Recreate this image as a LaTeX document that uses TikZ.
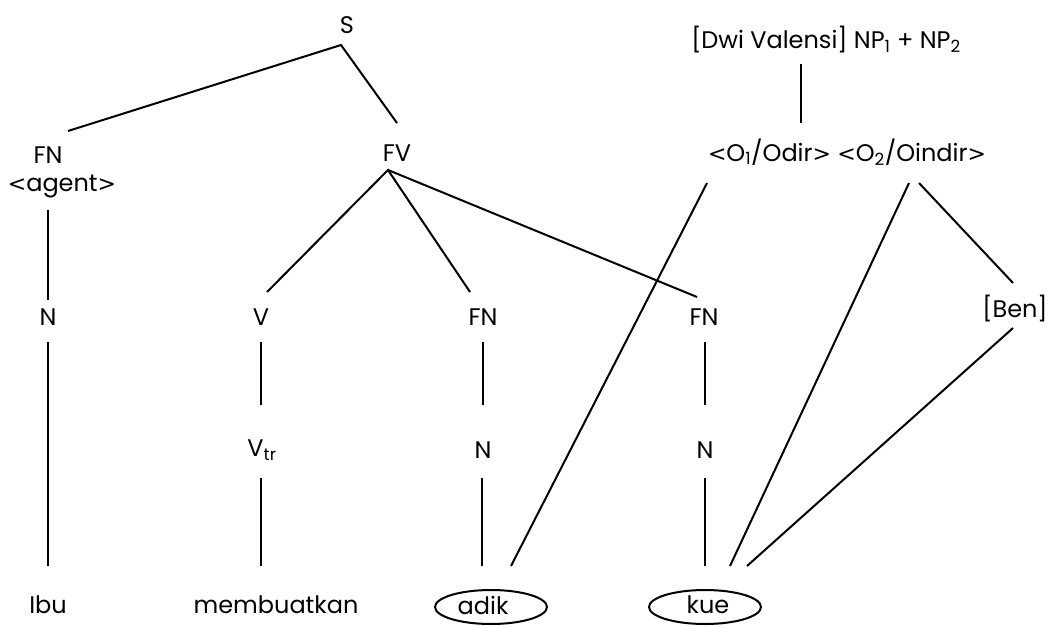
\documentclass[tikz,border=0pt]{standalone}
\usepackage{fontspec}
\setmainfont{Poppins}
\newfontfamily\symfont{DejaVu Sans}
\newcommand{\lt}{{\symfont\fontsize{22}{24}\selectfont<}}
\newcommand{\gt}{{\symfont\fontsize{22}{24}\selectfont>}}
\begin{document}
\begin{tikzpicture}[x=1pt,y=-1pt,
  lbl/.style={inner sep=0pt, font=\fontsize{24}{27}\selectfont},
  edge/.style={line width=2pt, black},
  ring/.style={line width=2pt, black}]
\useasboundingbox (0,0) rectangle (1048,626);
% nodes
\node[lbl] (S) at (347,25) {S};
\node[lbl] (FNa) at (48,155) {FN};
\node[lbl] (agent) at (62,187) {\lt agent\gt};
\node[lbl] (FV) at (397,153) {FV};
\node[lbl] (Na) at (48,317) {N};
\node[lbl] (V) at (261,317) {V};
\node[lbl] (FNb) at (483,317) {FN};
\node[lbl] (FNc) at (704,317) {FN};
\node[lbl] (Ben) at (1015,309) {[Ben]};
\node[lbl] (Vtr) at (262,450) {V\textsubscript{tr}};
\node[lbl] (Nb) at (483,450) {N};
\node[lbl] (Nc) at (705,450) {N};
\node[lbl] (Ibu) at (48,605) {Ibu};
\node[lbl] (memb) at (276,605) {membuatkan};
\node[lbl] (adik) at (483,605) {adik};
\node[lbl] (kue) at (708,605) {kue};
\node[lbl] (DV) at (826,40) {[Dwi Valensi] NP\textsubscript{1} + NP\textsubscript{2}};
\node[lbl] (O) at (847,152) {\lt O\textsubscript{1}/Odir\gt{} \lt O\textsubscript{2}/Oindir\gt};
% connector end points
\coordinate (S-b) at (341,45);
\coordinate (FNa-t) at (68,131);
\coordinate (FV-t) at (397,123);
\coordinate (agent-b) at (48,210);
\coordinate (Na-t) at (48,300);
\coordinate (FV-b) at (388,170);
\coordinate (V-t) at (267,292);
\coordinate (FNb-t) at (470,292);
\coordinate (FNc-t) at (697,297);
\coordinate (Na-b) at (48,342);
\coordinate (V-b) at (261,342);
\coordinate (FNb-b) at (483,342);
\coordinate (FNc-b) at (705,342);
\coordinate (Vtr-t) at (261,405);
\coordinate (Nb-t) at (483,405);
\coordinate (Nc-t) at (705,405);
\coordinate (Vtr-b) at (261,478);
\coordinate (Nb-b) at (482,478);
\coordinate (Nc-b) at (705,478);
\coordinate (Ibu-t) at (48,566);
\coordinate (memb-t) at (261,566);
\coordinate (adik-t) at (482,566);
\coordinate (adik-t2) at (511,566);
\coordinate (kue-t) at (705,566);
\coordinate (kue-t2) at (730,566);
\coordinate (kue-t3) at (747,566);
\coordinate (DV-b) at (801,64);
\coordinate (O-t) at (801,123);
\coordinate (O1-b) at (707,183);
\coordinate (O2-b) at (909,183);
\coordinate (O2-b2) at (919,183);
\coordinate (Ben-t) at (1013,283);
\coordinate (Ben-b) at (1013,328);
% connectors
\draw[edge] (FNa-t) -- (S-b) -- (FV-t);
\draw[edge] (agent-b) -- (Na-t);
\draw[edge] (V-t) -- (FV-b) -- (FNb-t);
\draw[edge] (FV-b) -- (FNc-t);
\draw[edge] (Na-b) -- (Ibu-t);
\draw[edge] (V-b) -- (Vtr-t);
\draw[edge] (FNb-b) -- (Nb-t);
\draw[edge] (FNc-b) -- (Nc-t);
\draw[edge] (Vtr-b) -- (memb-t);
\draw[edge] (Nb-b) -- (adik-t);
\draw[edge] (Nc-b) -- (kue-t);
\draw[edge] (DV-b) -- (O-t);
\draw[edge] (O1-b) -- (adik-t2);
\draw[edge] (O2-b) -- (kue-t2);
\draw[edge] (O2-b2) -- (Ben-t);
\draw[edge] (Ben-b) -- (kue-t3);
% ellipses around words
\draw[ring] (491,607) ellipse [x radius=56, y radius=17];
\draw[ring] (705,607) ellipse [x radius=56, y radius=17];
\end{tikzpicture}
\end{document}
